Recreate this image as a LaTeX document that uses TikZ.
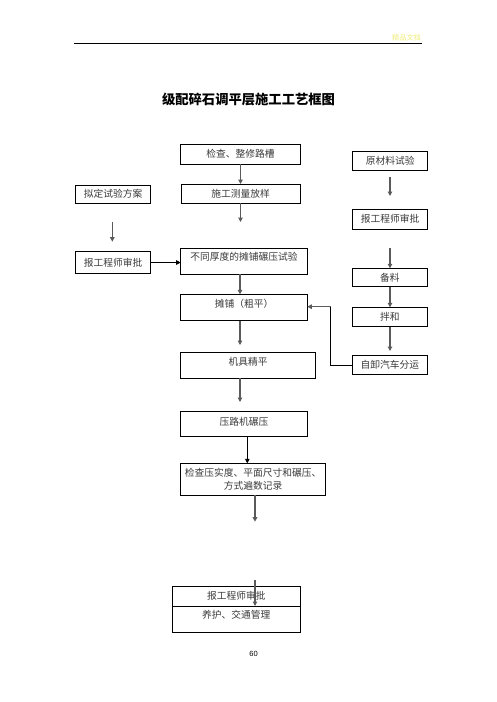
\documentclass[tikz,border=0pt]{standalone}
\usepackage{fontspec}
\setmainfont{Noto Sans CJK SC}
\newfontfamily\numfont{Liberation Sans}
\usetikzlibrary{calc,arrows.meta}
\definecolor{LineGray}{HTML}{5A5A5A}
\definecolor{TextGray}{HTML}{3A3A3A}
\definecolor{MarkYellow}{RGB}{ 238, 236, 120 }
\tikzset{
    box/.style={draw=black, line width=0.9pt, inner sep=0pt, outer sep=0pt,
        text=TextGray, font=\fontsize{9.75}{12.3}\selectfont,
        text height=8.5pt, text depth=1.2pt},
    flow/.style={LineGray, line width=1.3pt, -{Triangle[length=4.5pt,width=4.5pt]}},
    elbow/.style={black, line width=0.9pt}
}
\newcommand{\Canvas}{
\useasboundingbox (0,0) rectangle (496,702);

% free arrow ends
\coordinate (meas-end) at (240.5,222);
\coordinate (plan-start) at (112.3,222);
\coordinate (plan-end) at (112.3,241.7);
\coordinate (raw-start) at (390,176.7);
\coordinate (raw-end) at (390,196);
\coordinate (appR-start) at (390,248);
\coordinate (spread-end) at (240,345);
\coordinate (level-end) at (240,402);
\coordinate (mix-end) at (390,351);
\coordinate (bend) at (330.7,306.7);
\coordinate (check-end) at (255,521.7);
\coordinate (appB-start) at (255,580);
}

\begin{document}
\begin{tikzpicture}[x=1pt, y=-1pt]
\Canvas
% page head
\draw[black, line width=0.8pt] (74,43) -- (422,43);
\node[text=MarkYellow, font=\fontsize{7.2}{8}\selectfont] (mark) at (406.5,38) {精品文档};
\node[font=\fontsize{13.3}{15}\selectfont\bfseries] (title) at (248.5,99.5) {级配碎石调平层施工工艺框图};

% middle column
\node[box, minimum width=120pt, minimum height=20pt] (chk) at (240.5,154) {检查、整修路槽};
\node[box, minimum width=119pt, minimum height=19pt] (meas) at (240.5,193.5) {施工测量放样};
\node[box, minimum width=126.6pt, minimum height=26.3pt, text depth=10.2pt] (trial) at (244,261.2) {不同厚度的摊铺碾压试验};
\node[box, minimum width=126.6pt, minimum height=26.4pt, text depth=7.6pt] (spread) at (244,307.5) {摊铺（粗平）};
\node[box, minimum width=135pt, minimum height=26pt, text depth=8.4pt] (level) at (248.2,365.3) {机具精平};
\node[box, minimum width=126.6pt, minimum height=25pt, text depth=6.2pt] (roll) at (244,424.2) {压路机碾压};
\node[box, minimum width=145pt, minimum height=31.7pt, align=center, text height=, text depth=] (check) at (253.2,479.2) {检查压实度、平面尺寸和碾压、\\方式遍数记录};
\node[box, minimum width=128pt, minimum height=20pt] (appB) at (236.3,596) {报工程师审批};
\node[box, minimum width=128pt, minimum height=26pt, text depth=9.2pt] (cure) at (236.3,619) {养护、交通管理};

% left column
\node[box, minimum width=75pt, minimum height=18.3pt] (plan) at (113.2,194.2) {拟定试验方案};
\node[box, minimum width=75pt, minimum height=22.6pt] (appL) at (113.2,262.5) {报工程师审批};

% right column
\node[box, minimum width=75pt, minimum height=18.3pt] (raw) at (390.2,160.8) {原材料试验};
\node[box, minimum width=75pt, minimum height=20pt] (appR) at (390.2,219.3) {报工程师审批};
\node[box, minimum width=75pt, minimum height=18.4pt] (prep) at (389.8,277.5) {备料};
\node[box, minimum width=75pt, minimum height=19.4pt] (mix) at (389.8,317) {拌和};
\node[box, minimum width=75pt, minimum height=19.4pt] (truck) at (389.8,365) {自卸汽车分运};

% arrows
\draw[flow] (chk) -- (meas);
\draw[flow] (meas) -- (meas-end);
\draw[flow] (plan-start) -- (plan-end);
\draw[flow] (raw-start) -- (raw-end);
\draw[flow] (appR-start) -- (appR-start |- prep.north);
\draw[flow, black, line width=0.9pt] (appL.east) -- (trial.west |- appL.east);
\draw[flow] (trial.south -| spread-end) -- (spread.north -| spread-end);
\draw[flow] (spread.south -| spread-end) -- (spread-end);
\draw[flow] (level.south -| level-end) -- (level-end);
\draw[flow] (prep.south -| appR-start) -- (mix.north -| appR-start);
\draw[flow] (mix.south -| mix-end) -- (mix-end);
\draw[elbow] (truck.west) -| (bend);
\draw[flow] (bend) -- (spread.east |- bend);
\draw[flow, black, line width=0.9pt] ([xshift=3.3pt]roll.south) -- ([xshift=3.3pt]roll.south |- check.north);
\draw[flow] (check.south -| check-end) -- (check-end);
\draw[flow] (appB-start) -- (appB-start |- cure.north);

\node[font=\numfont\fontsize{7.5}{9}\selectfont] (page) at (253.5,654.3) {60};
\end{tikzpicture}
\end{document}
